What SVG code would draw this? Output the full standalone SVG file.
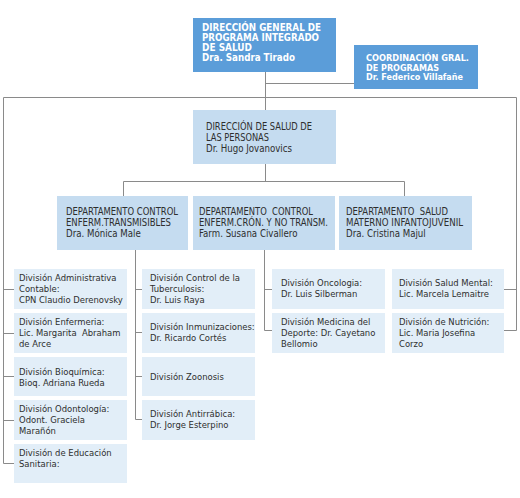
<svg xmlns="http://www.w3.org/2000/svg" width="520" height="498" viewBox="0 0 520 498">
<style>
.top{fill:#5b9dd9}
.mid{fill:#c5dcf0}
.div{fill:#e2eef8}
.con{fill:none;stroke:#8a8a8a;stroke-width:1}
text{font-family:"DejaVu Sans Condensed","Liberation Sans",Arial,sans-serif;font-stretch:condensed;white-space:pre}
.tb{fill:#ffffff;font-weight:bold;font-size:10px}
.tc{fill:#ffffff;font-weight:bold;font-size:9px}
.tm{fill:#2e2e2e;font-size:9.6px}
.td{fill:#2e2e2e;font-size:9.4px}
</style>
<rect width="520" height="498" fill="#ffffff"/>
<g id="connectors" class="con">
<path d="M265.5 72V110M265.5 83.5H354"/>
<path d="M3.5 463.5V97.5H516.5V330.5"/>
<path d="M3.5 289.5H14M3.5 333.5H14M3.5 376.5H14M3.5 420.5H14M3.5 463.5H14"/>
<path d="M265.5 164V181.5M123.5 196V181.5H404.5V196"/>
<path d="M135.5 250V419.5M135.5 289.5H142M135.5 332.5H142M135.5 376.5H142M135.5 419.5H142"/>
<path d="M264.5 250V330.5M264.5 289.5H272M264.5 330.5H272"/>
<path d="M504 289.5H516.5M504 330.5H516.5"/>
</g>
<g id="n-direccion-general">
<rect class="top" x="193" y="18" width="143" height="54"/>
<text class="tb" x="202" y="31" textLength="119" lengthAdjust="spacingAndGlyphs">DIRECCIÓN GENERAL DE</text>
<text class="tb" x="202" y="41" textLength="117" lengthAdjust="spacingAndGlyphs">PROGRAMA INTEGRADO</text>
<text class="tb" x="202" y="51" textLength="50" lengthAdjust="spacingAndGlyphs">DE SALUD</text>
<text class="tb" x="202" y="61" textLength="93" lengthAdjust="spacingAndGlyphs">Dra. Sandra Tirado</text>
</g>
<g id="n-coordinacion">
<rect class="top" x="354" y="45" width="124" height="44"/>
<text class="tc" x="366" y="61" textLength="103" lengthAdjust="spacingAndGlyphs">COORDINACIÓN GRAL.</text>
<text class="tc" x="366" y="70.5" textLength="73" lengthAdjust="spacingAndGlyphs">DE PROGRAMAS</text>
<text class="tc" x="366" y="80" textLength="97" lengthAdjust="spacingAndGlyphs">Dr. Federico Villafañe</text>
</g>
<g id="n-direccion-salud">
<rect class="mid" x="193" y="110" width="143" height="54"/>
<text class="tm" x="206" y="130" textLength="106" lengthAdjust="spacingAndGlyphs">DIRECCIÓN DE SALUD DE</text>
<text class="tm" x="206" y="141" textLength="63" lengthAdjust="spacingAndGlyphs">LAS PERSONAS</text>
<text class="tm" x="206" y="152">Dr. Hugo Jovanovics</text>
</g>
<g id="n-dep-transmisibles">
<rect class="mid" x="57" y="196" width="131" height="54"/>
<text class="tm" x="66" y="215" textLength="112" lengthAdjust="spacingAndGlyphs">DEPARTAMENTO CONTROL</text>
<text class="tm" x="66" y="226" textLength="105" lengthAdjust="spacingAndGlyphs">ENFERM.TRANSMISIBLES</text>
<text class="tm" x="66" y="237">Dra. Mónica Male</text>
</g>
<g id="n-dep-cronicas">
<rect class="mid" x="193" y="196" width="142" height="54"/>
<text class="tm" x="199" y="215" textLength="114" lengthAdjust="spacingAndGlyphs">DEPARTAMENTO  CONTROL</text>
<text class="tm" x="199" y="226" textLength="129" lengthAdjust="spacingAndGlyphs">ENFERM.CRÓN. Y NO TRANSM.</text>
<text class="tm" x="199" y="237">Farm. Susana Civallero</text>
</g>
<g id="n-dep-materno">
<rect class="mid" x="339" y="196" width="133" height="54"/>
<text class="tm" x="346" y="215" textLength="102" lengthAdjust="spacingAndGlyphs">DEPARTAMENTO  SALUD</text>
<text class="tm" x="346" y="226" textLength="117" lengthAdjust="spacingAndGlyphs">MATERNO INFANTOJUVENIL</text>
<text class="tm" x="346" y="237">Dra. Cristina Majul</text>
</g>
<g id="n-div-administrativa">
<rect class="div" x="14" y="269" width="113" height="40"/>
<text class="td" x="19" y="281">División Administrativa</text>
<text class="td" x="19" y="292">Contable:</text>
<text class="td" x="19" y="303">CPN Claudio Derenovsky</text>
</g>
<g id="n-div-enfermeria">
<rect class="div" x="14" y="313" width="113" height="40"/>
<text class="td" x="19" y="325">División Enfermeria:</text>
<text class="td" x="19" y="336">Lic. Margarita  Abraham</text>
<text class="td" x="19" y="347">de Arce</text>
</g>
<g id="n-div-bioquimica">
<rect class="div" x="14" y="357" width="113" height="39"/>
<text class="td" x="19" y="375">División Bioquímica:</text>
<text class="td" x="19" y="386">Bioq. Adriana Rueda</text>
</g>
<g id="n-div-odontologia">
<rect class="div" x="14" y="400" width="113" height="40"/>
<text class="td" x="19" y="412">División Odontología:</text>
<text class="td" x="19" y="423">Odont. Graciela</text>
<text class="td" x="19" y="434">Marañón</text>
</g>
<g id="n-div-educacion">
<rect class="div" x="14" y="444" width="113" height="39"/>
<text class="td" x="19" y="456">División de Educación</text>
<text class="td" x="19" y="467">Sanitaria:</text>
</g>
<g id="n-div-tuberculosis">
<rect class="div" x="142" y="269" width="113" height="40"/>
<text class="td" x="150" y="281">División Control de la</text>
<text class="td" x="150" y="292">Tuberculosis:</text>
<text class="td" x="150" y="303">Dr. Luis Raya</text>
</g>
<g id="n-div-inmunizaciones">
<rect class="div" x="142" y="313" width="113" height="40"/>
<text class="td" x="150" y="330">División Inmunizaciones:</text>
<text class="td" x="150" y="341">Dr. Ricardo Cortés</text>
</g>
<g id="n-div-zoonosis">
<rect class="div" x="142" y="357" width="113" height="39"/>
<text class="td" x="150" y="380">División Zoonosis</text>
</g>
<g id="n-div-antirrabica">
<rect class="div" x="142" y="400" width="113" height="40"/>
<text class="td" x="150" y="417">División Antirrábica:</text>
<text class="td" x="150" y="428">Dr. Jorge Esterpino</text>
</g>
<g id="n-div-oncologia">
<rect class="div" x="272" y="269" width="113" height="40"/>
<text class="td" x="281" y="286">División Oncologia:</text>
<text class="td" x="281" y="297">Dr. Luis Silberman</text>
</g>
<g id="n-div-medicina-deporte">
<rect class="div" x="272" y="313" width="113" height="40"/>
<text class="td" x="281" y="325">División Medicina del</text>
<text class="td" x="281" y="336">Deporte: Dr. Cayetano</text>
<text class="td" x="281" y="347">Bellomio</text>
</g>
<g id="n-div-salud-mental">
<rect class="div" x="392" y="269" width="112" height="40"/>
<text class="td" x="399" y="286">División Salud Mental:</text>
<text class="td" x="399" y="297">Lic. Marcela Lemaitre</text>
</g>
<g id="n-div-nutricion">
<rect class="div" x="392" y="313" width="112" height="40"/>
<text class="td" x="399" y="325">División de Nutrición:</text>
<text class="td" x="399" y="336">Lic. Maria Josefina</text>
<text class="td" x="399" y="347">Corzo</text>
</g>
</svg>
